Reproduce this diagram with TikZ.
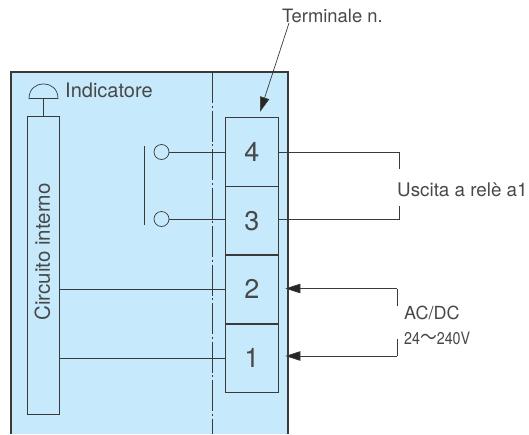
\documentclass[tikz,border=0pt]{standalone}
\usepackage{fontspec}
\setmainfont{TeX Gyre Heros}
\newfontfamily\cjk{Noto Sans CJK JP}
\usetikzlibrary{positioning,arrows.meta}
\definecolor{panelblue}{HTML}{C6E9FB}
\definecolor{inkgrey}{HTML}{3A3A3A}
\definecolor{textgrey}{HTML}{484848}
\tikzset{
  wire/.style={draw=inkgrey,line width=.7pt},
  lead/.style={wire,-{Triangle[length=15pt,width=9.5pt,fill=black!85]}},
  termbox/.style={draw=inkgrey,line width=.7pt,minimum width=53pt,minimum height=68pt,inner sep=0pt,text=textgrey,font=\fontsize{27}{30}\selectfont},
  contact/.style={circle,draw=inkgrey,line width=.7pt,minimum size=15pt,inner sep=0pt},
  label/.style={inner sep=0pt,text=textgrey,font=\fontsize{18.8}{23}\selectfont}
}
\begin{document}
\begin{tikzpicture}[x=1pt,y=-1pt]
  \useasboundingbox (0,0) rectangle (529,434);
  % panel
  \fill[panelblue] (11,72) rectangle (288,434);
  \draw[inkgrey,line width=1.5pt] (11,434) -- (11,72) -- (288,72) -- (288,434);
  \draw[inkgrey,line width=.7pt,dash pattern=on 31pt off 2.5pt on 2pt off 3pt] (212.5,72) -- (212.5,434);
  % terminals
  \node[termbox,minimum height=69pt] (t4) at (252,151.5) {4};
  \node[termbox,below=0pt of t4] (t3) {3};
  \node[termbox,below=0pt of t3] (t2) {2};
  \node[termbox,below=0pt of t2] (t1) {1};
  % circuit
  \node[draw=inkgrey,line width=.7pt,minimum width=32pt,minimum height=298pt,inner sep=0pt] (circ) at (43,265) {};
  \node[label,rotate=90,font=\fontsize{20.5}{24}\selectfont] (circtext) at (42.5,252) {Circuito interno};
  \draw[wire] (circ.east |- t2.west) -- (t2.west);
  \draw[wire] (circ.east |- t1.west) -- (t1.west);
  % indicator
  \coordinate (bellbase) at (43.5,98.5);
  \draw[wire] (29,98.5) .. controls (29,79) and (58,79) .. (58,98.5) -- cycle;
  \draw[wire] (bellbase) -- (bellbase |- circ.north);
  \node[label,anchor=west,font=\fontsize{20}{24}\selectfont] (ind) at (65,90) {Indicatore};
  % relay
  \node[contact] (c4) at (161.5,152) {};
  \node[contact] (c3) at (161.5,219) {};
  \coordinate (bartop) at (144.5,146);
  \coordinate (barbot) at (144.5,225);
  \draw[wire] (bartop) -- (barbot);
  \draw[wire] (c4) -- (c4 -| t4.west);
  \draw[wire] (c3) -- (c3 -| t3.west);
  % outputs
  \node[label,anchor=west] (relay) at (397,190) {Uscita a relè a1};
  \coordinate (r4) at (399.5,152);
  \coordinate (r3) at (399.5,219);
  \draw[wire] (c4 -| t4.east) -- (r4) -- (399.5,169);
  \draw[wire] (c3 -| t3.east) -- (r3) -- (399.5,206);
  % supply
  \node[label,anchor=west,font=\fontsize{18}{22}\selectfont] (acdc) at (404,313) {AC/DC};
  \node[label,anchor=west,xscale=.84,font=\fontsize{17}{20}\selectfont] (volt) at (404,338) {24{\cjk\fontsize{20}{20}\selectfont 〜}240V};
  \coordinate (s2) at (397,288.5);
  \coordinate (s1) at (397,356);
  \draw[wire] (397,306) -- (s2);
  \draw[wire] (397,339) -- (s1);
  \draw[lead,shorten >=6.5pt] (s2) -- (s2 -| t2.east);
  \draw[lead,shorten >=6.5pt] (s1) -- (s1 -| t1.east);
  % terminal label
  \node[label,anchor=west,font=\fontsize{18.4}{22}\selectfont] (termlab) at (282,16) {Terminale n.};
  \coordinate (termtop) at (289,23);
  \coordinate (termtip) at (260,112);
  \draw[lead] (termtop) -- (termtip);
\end{tikzpicture}
\end{document}
